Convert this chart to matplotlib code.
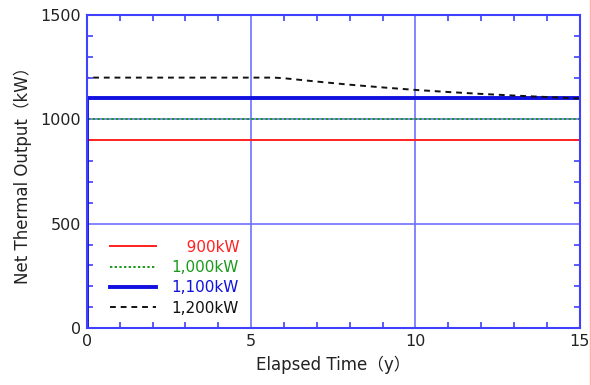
from matplotlib import pyplot as plt
from matplotlib.lines import Line2D
from matplotlib.ticker import MultipleLocator
import numpy as np

plt.rcParams['font.family'] = ['DejaVu Sans']

# elapsed time (y) and net thermal output (kW) per case
t_flat = [0, 0, 15]
out_900 = [0, 900, 900]
out_1000 = [0, 1000, 1000]
out_1100 = [0, 1100, 1100]
t_1200 = [0, 0, 5.7, 6, 7, 8, 9, 10, 11, 12, 13, 14, 15]
out_1200 = [0, 1200, 1200, 1197, 1181, 1166, 1153, 1141, 1131, 1122, 1114, 1107, 1100]

labels = ['\u2007\u2008900kW', '1,000kW', '1,100kW', '1,200kW']
colors = ['#ff2020', '#1a9a1a', '#1010e0', '#111111']

fig = plt.figure(figsize=(5.91, 3.85), dpi=100)
ax = fig.add_axes([0.147, 0.148, 0.834, 0.813])

ax.plot(t_flat, out_900, color=colors[0], lw=1.4, label=labels[0])
ax.plot(t_flat, out_1000, color=colors[1], lw=1.4, ls=(0, (1.2, 1.2)), label=labels[1])
ax.plot(t_flat, out_1100, color=colors[2], lw=2.8, label=labels[2])
ax.plot(t_1200, out_1200, color=colors[3], lw=1.4, ls=(0, (3, 2.5)), label=labels[3])

ax.set_xlim(0, 15)
ax.set_ylim(0, 1500)
ax.xaxis.set_major_locator(MultipleLocator(5))
ax.xaxis.set_minor_locator(MultipleLocator(1))
ax.yaxis.set_major_locator(MultipleLocator(500))
ax.yaxis.set_minor_locator(MultipleLocator(100))
ax.grid(which='major', color='#7070ff', lw=1.2)
ax.set_axisbelow(True)
for s in ax.spines.values():
    s.set_color('#4040ff')
    s.set_linewidth(1.5)
ax.tick_params(which='both', direction='in', top=True, right=True, color='#4040ff', labelsize=11.5, labelcolor='#222222')
ax.tick_params(which='major', length=0, pad=4)
ax.tick_params(which='minor', length=4, width=1.2)

ax.set_xlabel('Elapsed Time（y）', fontsize=12, color='#222222', labelpad=5, family=['DejaVu Sans', 'Noto Sans CJK JP'])
ax.set_ylabel('Net Thermal Output（kW）', fontsize=12, color='#222222', labelpad=6, family=['DejaVu Sans', 'Noto Sans CJK JP'])

leg = ax.legend(loc='lower left', frameon=False, fontsize=11, handlelength=3.0, handletextpad=1.0,
                labelspacing=0.35, bbox_to_anchor=(0.02, -0.005))
for txt, c in zip(leg.get_texts(), colors):
    txt.set_color(c)

fig.add_artist(Line2D([0.9985, 0.9985], [0, 1], transform=fig.transFigure, color='#ffb0b0', lw=1))

plt.savefig('out.png', dpi=100)
